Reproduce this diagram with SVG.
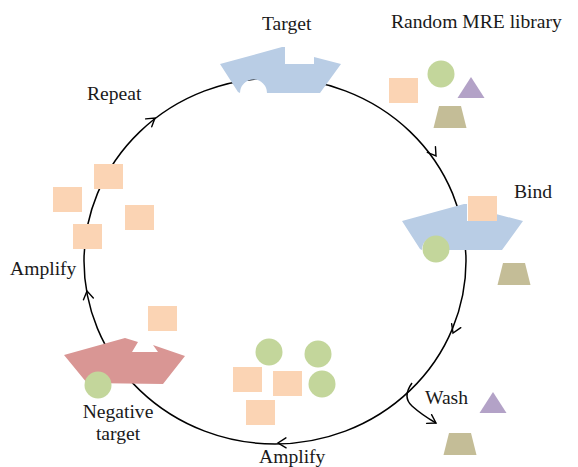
<svg xmlns="http://www.w3.org/2000/svg" xmlns:xlink="http://www.w3.org/1999/xlink" width="578" height="467" viewBox="0 0 578 467">
<style>
  .lbl { font-family: "Liberation Serif", "Times New Roman", serif; font-size: 19.6px; fill: #1a1a1a; }
  .ring { fill: none; stroke: #000; stroke-width: 1.5; }
  .ah { fill: none; stroke: #000; stroke-width: 1.4; stroke-linecap: round; stroke-linejoin: miter; }
  .sq { fill: #fbd4b4; }
  .ci { fill: #c3d69b; }
  .tri { fill: #b3a2c7; }
  .trap { fill: #c4bd97; }
  .blue { fill: #b9cde5; }
  .red { fill: #d99694; }
</style>
<defs>
  <path id="ah" class="ah" d="M-8,-5 L0,0 L-8,5"/>
  <rect id="sq" class="sq" width="29" height="25"/>
  <circle id="ci" class="ci" r="13.5"/>
  <path id="tgt" class="blue" d="M220,64 L282,47 L285,47 L285,64 L314,64 L314,57 L341,64 L320,93 L267,93 A13.5,13.5 0 0 0 240,93 L238,92 Z"/>
  <polygon id="tri" class="tri" points="-13.5,21 0,0 13.5,21"/>
  <polygon id="trap" class="trap" points="-11,0 11,0 16.5,22 -16.5,22"/>
</defs>
<rect width="578" height="467" fill="#fff"/>

<g id="connectors">
  <ellipse class="ring" cx="275" cy="261" rx="191" ry="183"/>
  <path class="ring" d="M412,383 Q402,397 412,406 Q422,415 436,423"/>
  <use xlink:href="#ah" transform="translate(155,118) rotate(-37.6)"/>
  <use xlink:href="#ah" transform="translate(436,156) rotate(54.6)"/>
  <use xlink:href="#ah" transform="translate(453,333) rotate(113.7)"/>
  <use xlink:href="#ah" transform="translate(278,443) rotate(179)"/>
  <use xlink:href="#ah" transform="translate(87,291) rotate(260)"/>
  <use xlink:href="#ah" transform="translate(436,423) rotate(30)"/>
</g>

<g id="target">
  <use xlink:href="#tgt"/>
  <text class="lbl" x="262" y="30">Target</text>
</g>

<g id="library">
  <text class="lbl" x="391" y="28">Random MRE library</text>
  <use xlink:href="#sq" x="389" y="78"/>
  <use xlink:href="#ci" x="441" y="74"/>
  <use xlink:href="#tri" transform="translate(471,77)"/>
  <use xlink:href="#trap" transform="translate(450,106)"/>
</g>

<g id="bind">
  <use xlink:href="#tgt" transform="translate(182,157)"/>
  <use xlink:href="#sq" x="468" y="196"/>
  <use xlink:href="#ci" x="436" y="249"/>
  <use xlink:href="#trap" transform="translate(514,263)"/>
  <text class="lbl" x="514" y="198">Bind</text>
</g>

<g id="wash">
  <text class="lbl" x="425" y="404">Wash</text>
  <use xlink:href="#tri" transform="translate(493,392)"/>
  <use xlink:href="#trap" transform="translate(460,433)"/>
</g>

<g id="amplify-bottom">
  <use xlink:href="#ci" x="269" y="352"/>
  <use xlink:href="#ci" x="318" y="354"/>
  <use xlink:href="#ci" x="322" y="384"/>
  <use xlink:href="#sq" x="233" y="367"/>
  <use xlink:href="#sq" x="273" y="371"/>
  <use xlink:href="#sq" x="246" y="400"/>
  <text class="lbl" x="259" y="463">Amplify</text>
</g>

<g id="negative-target">
  <path class="red" d="M64,355 L125,338 L138,342 L132,352 L158,352 L153,345 L185,356 L163,384 L87,383 Z"/>
  <use xlink:href="#sq" x="148" y="306"/>
  <use xlink:href="#ci" x="98" y="385"/>
  <text class="lbl" x="118" y="418" text-anchor="middle">Negative</text>
  <text class="lbl" x="118" y="440" text-anchor="middle">target</text>
</g>

<g id="amplify-left">
  <text class="lbl" x="10" y="275">Amplify</text>
</g>

<g id="repeat">
  <use xlink:href="#sq" x="53" y="187"/>
  <use xlink:href="#sq" x="94" y="164"/>
  <use xlink:href="#sq" x="125" y="205"/>
  <use xlink:href="#sq" x="73" y="224"/>
  <text class="lbl" x="87" y="100">Repeat</text>
</g>
</svg>
